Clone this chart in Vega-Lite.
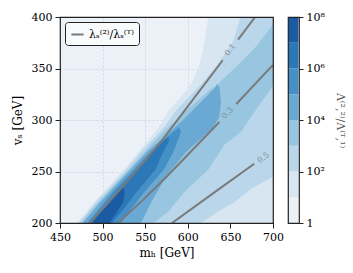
{
  "$schema": "https://vega.github.io/schema/vega-lite/v6.json",
  "padding": {"left": 10, "top": 10, "right": 0, "bottom": 0},
  "datasets": {
    "bands": [
      {"band": 1, "v": 200, "m1": 470, "m2": 700},
      {"band": 1, "v": 220, "m1": 490, "m2": 700},
      {"band": 1, "v": 251, "m1": 524, "m2": 700},
      {"band": 1, "v": 269, "m1": 542, "m2": 700},
      {"band": 1, "v": 293, "m1": 566, "m2": 700},
      {"band": 1, "v": 310, "m1": 578, "m2": 700},
      {"band": 1, "v": 322, "m1": 592, "m2": 700},
      {"band": 1, "v": 335, "m1": 604, "m2": 700},
      {"band": 1, "v": 352, "m1": 613, "m2": 700},
      {"band": 1, "v": 368, "m1": 618, "m2": 700},
      {"band": 1, "v": 400, "m1": 624, "m2": 700},
      {"band": 2, "v": 200, "m1": 472, "m2": 616},
      {"band": 2, "v": 211, "m1": 483, "m2": 635},
      {"band": 2, "v": 220, "m1": 492, "m2": 654},
      {"band": 2, "v": 223, "m1": 495, "m2": 659},
      {"band": 2, "v": 233, "m1": 507, "m2": 674},
      {"band": 2, "v": 245, "m1": 520, "m2": 700},
      {"band": 2, "v": 252, "m1": 528, "m2": 700},
      {"band": 2, "v": 269, "m1": 545, "m2": 700},
      {"band": 2, "v": 293, "m1": 572, "m2": 700},
      {"band": 2, "v": 310, "m1": 587, "m2": 700},
      {"band": 2, "v": 322, "m1": 601, "m2": 700},
      {"band": 2, "v": 335, "m1": 616, "m2": 700},
      {"band": 2, "v": 352, "m1": 633, "m2": 700},
      {"band": 2, "v": 376, "m1": 653, "m2": 700},
      {"band": 2, "v": 400, "m1": 662, "m2": 700},
      {"band": 3, "v": 200, "m1": 475, "m2": 560},
      {"band": 3, "v": 211, "m1": 485, "m2": 577},
      {"band": 3, "v": 230, "m1": 506, "m2": 596},
      {"band": 3, "v": 252, "m1": 531, "m2": 624},
      {"band": 3, "v": 276, "m1": 557, "m2": 643},
      {"band": 3, "v": 288, "m1": 571, "m2": 662},
      {"band": 3, "v": 303, "m1": 590, "m2": 674},
      {"band": 3, "v": 318, "m1": 610, "m2": 687},
      {"band": 3, "v": 332, "m1": 630, "m2": 699},
      {"band": 3, "v": 335, "m1": 635, "m2": 700},
      {"band": 3, "v": 352, "m1": 657, "m2": 700},
      {"band": 3, "v": 371, "m1": 680, "m2": 700},
      {"band": 3, "v": 393, "m1": 700, "m2": 700},
      {"band": 4, "v": 200, "m1": 477, "m2": 545},
      {"band": 4, "v": 220, "m1": 497, "m2": 557},
      {"band": 4, "v": 245, "m1": 525, "m2": 574},
      {"band": 4, "v": 252, "m1": 533, "m2": 581},
      {"band": 4, "v": 269, "m1": 552, "m2": 598},
      {"band": 4, "v": 293, "m1": 585, "m2": 630},
      {"band": 4, "v": 303, "m1": 598, "m2": 637},
      {"band": 4, "v": 318, "m1": 616, "m2": 639},
      {"band": 4, "v": 332, "m1": 633, "m2": 637},
      {"band": 4, "v": 335, "m1": 634, "m2": 634},
      {"band": 5, "v": 200, "m1": 482, "m2": 522},
      {"band": 5, "v": 211, "m1": 493, "m2": 531},
      {"band": 5, "v": 230, "m1": 512, "m2": 549},
      {"band": 5, "v": 252, "m1": 537, "m2": 572},
      {"band": 5, "v": 269, "m1": 556, "m2": 583},
      {"band": 5, "v": 288, "m1": 582, "m2": 592},
      {"band": 5, "v": 293, "m1": 590, "m2": 590},
      {"band": 6, "v": 200, "m1": 485, "m2": 511},
      {"band": 6, "v": 211, "m1": 497, "m2": 522},
      {"band": 6, "v": 230, "m1": 516, "m2": 540},
      {"band": 6, "v": 252, "m1": 540, "m2": 562},
      {"band": 6, "v": 269, "m1": 559, "m2": 571},
      {"band": 6, "v": 279, "m1": 570, "m2": 578},
      {"band": 6, "v": 284, "m1": 577, "m2": 577},
      {"band": 7, "v": 200, "m1": 488, "m2": 508},
      {"band": 7, "v": 211, "m1": 498, "m2": 517},
      {"band": 7, "v": 220, "m1": 508, "m2": 524},
      {"band": 7, "v": 230, "m1": 517, "m2": 526},
      {"band": 7, "v": 235, "m1": 524, "m2": 524}
    ],
    "lines": [
      {"name": "λₛ⁽²⁾/λₛ⁽ᵀ⁾", "seg": "a", "m": 485, "v": 200},
      {"name": "λₛ⁽²⁾/λₛ⁽ᵀ⁾", "seg": "a", "m": 527.5, "v": 239},
      {"name": "λₛ⁽²⁾/λₛ⁽ᵀ⁾", "seg": "a", "m": 570, "v": 280.5},
      {"name": "λₛ⁽²⁾/λₛ⁽ᵀ⁾", "seg": "a", "m": 604, "v": 317.5},
      {"name": "λₛ⁽²⁾/λₛ⁽ᵀ⁾", "seg": "a", "m": 641, "v": 358},
      {"name": "λₛ⁽²⁾/λₛ⁽ᵀ⁾", "seg": "b", "m": 659, "v": 378},
      {"name": "λₛ⁽²⁾/λₛ⁽ᵀ⁾", "seg": "b", "m": 679, "v": 400},
      {"name": "λₛ⁽²⁾/λₛ⁽ᵀ⁾", "seg": "c", "m": 518, "v": 200},
      {"name": "λₛ⁽²⁾/λₛ⁽ᵀ⁾", "seg": "c", "m": 545, "v": 220.5},
      {"name": "λₛ⁽²⁾/λₛ⁽ᵀ⁾", "seg": "c", "m": 574, "v": 244},
      {"name": "λₛ⁽²⁾/λₛ⁽ᵀ⁾", "seg": "c", "m": 637, "v": 298},
      {"name": "λₛ⁽²⁾/λₛ⁽ᵀ⁾", "seg": "d", "m": 657, "v": 315.5},
      {"name": "λₛ⁽²⁾/λₛ⁽ᵀ⁾", "seg": "d", "m": 700, "v": 353.5},
      {"name": "λₛ⁽²⁾/λₛ⁽ᵀ⁾", "seg": "e", "m": 581.5, "v": 200},
      {"name": "λₛ⁽²⁾/λₛ⁽ᵀ⁾", "seg": "e", "m": 630, "v": 229},
      {"name": "λₛ⁽²⁾/λₛ⁽ᵀ⁾", "seg": "e", "m": 678, "v": 257.5}
    ],
    "labels": [
      {"label": "0.1", "m": 650, "v": 368},
      {"label": "0.3", "m": 647, "v": 306.5},
      {"label": "0.5", "m": 689, "v": 263}
    ],
    "cbar": [
      {"band": 0, "lo": 1, "hi": 10},
      {"band": 1, "lo": 10, "hi": 100},
      {"band": 2, "lo": 100, "hi": 1000},
      {"band": 3, "lo": 1000, "hi": 10000},
      {"band": 4, "lo": 10000, "hi": 100000},
      {"band": 5, "lo": 100000, "hi": 1000000},
      {"band": 6, "lo": 1000000, "hi": 10000000},
      {"band": 7, "lo": 10000000, "hi": 100000000}
    ]
  },
  "spacing": 2,
  "resolve": {"scale": {"color": "shared"}, "legend": {"stroke": "independent", "color": "independent"}},
  "hconcat": [
    {
      "width": 213,
      "height": 206,
      "view": {"fill": "#ebf1f7", "stroke": "#222", "strokeWidth": 1.2},
      "encoding": {
        "y": {"field": "v", "type": "quantitative", "scale": {"domain": [200, 400], "nice": false, "zero": false},
              "axis": {"title": "vₛ [GeV]", "values": [200, 250, 300, 350, 400], "titlePadding": 7}},
        "x": {"field": "m1", "type": "quantitative", "scale": {"domain": [450, 700], "nice": false, "zero": false},
              "axis": {"title": "mₕ [GeV]", "values": [450, 500, 550, 600, 650, 700], "titlePadding": 5}},
        "x2": {"field": "m2"},
        "color": {"field": "band", "type": "ordinal",
                  "scale": {"domain": [0, 1, 2, 3, 4, 5, 6, 7],
                            "range": ["#ebf1f7", "#d7e6f1", "#bad6ea", "#98c6e0", "#69a9d3", "#4490c6", "#2b77b8", "#1a5ba4"]},
                  "legend": null}
      },
      "layer": [
        {"data": {"name": "bands"}, "transform": [{"filter": "datum.band == 1"}], "mark": {"type": "area", "orient": "horizontal", "clip": true}},
        {"data": {"name": "bands"}, "transform": [{"filter": "datum.band == 2"}], "mark": {"type": "area", "orient": "horizontal", "clip": true}},
        {"data": {"name": "bands"}, "transform": [{"filter": "datum.band == 3"}], "mark": {"type": "area", "orient": "horizontal", "clip": true}},
        {"data": {"name": "bands"}, "transform": [{"filter": "datum.band == 4"}], "mark": {"type": "area", "orient": "horizontal", "clip": true}},
        {"data": {"name": "bands"}, "transform": [{"filter": "datum.band == 5"}], "mark": {"type": "area", "orient": "horizontal", "clip": true}},
        {"data": {"name": "bands"}, "transform": [{"filter": "datum.band == 6"}], "mark": {"type": "area", "orient": "horizontal", "clip": true}},
        {"data": {"name": "bands"}, "transform": [{"filter": "datum.band == 7"}], "mark": {"type": "area", "orient": "horizontal", "clip": true}},
        {
          "data": {"name": "lines"},
          "mark": {"type": "line", "strokeWidth": 2, "clip": true},
          "encoding": {
            "x": {"field": "m", "type": "quantitative"},
            "y": {"field": "v", "type": "quantitative"},
            "x2": null,
            "color": null,
            "detail": {"field": "seg"},
            "stroke": {"field": "name", "type": "nominal", "scale": {"range": ["#7a7a7a"]},
                       "legend": {"title": null, "orient": "top-left", "offset": 5, "padding": 5,
                                  "strokeColor": "#222", "fillColor": "#f8fafc", "cornerRadius": 3,
                                  "symbolType": "stroke", "symbolSize": 150, "symbolStrokeWidth": 2,
                                  "labelFont": "DejaVu Serif", "labelFontSize": 11, "labelColor": "#000"}}
          }
        },
        {
          "data": {"name": "labels"},
          "transform": [{"filter": "datum.label == '0.1'"}],
          "mark": {"type": "text", "angle": 307, "font": "DejaVu Serif", "fontSize": 8, "color": "#8a8a8a"},
          "encoding": {"x": {"field": "m", "type": "quantitative"}, "y": {"field": "v", "type": "quantitative"}, "x2": null, "color": null, "text": {"field": "label"}}
        },
        {
          "data": {"name": "labels"},
          "transform": [{"filter": "datum.label == '0.3'"}],
          "mark": {"type": "text", "angle": 314, "font": "DejaVu Serif", "fontSize": 8, "color": "#8a8a8a"},
          "encoding": {"x": {"field": "m", "type": "quantitative"}, "y": {"field": "v", "type": "quantitative"}, "x2": null, "color": null, "text": {"field": "label"}}
        },
        {
          "data": {"name": "labels"},
          "transform": [{"filter": "datum.label == '0.5'"}],
          "mark": {"type": "text", "angle": 323, "font": "DejaVu Serif", "fontSize": 8, "color": "#8a8a8a"},
          "encoding": {"x": {"field": "m", "type": "quantitative"}, "y": {"field": "v", "type": "quantitative"}, "x2": null, "color": null, "text": {"field": "label"}}
        }
      ]
    },
    {
      "width": 11,
      "height": 206,
      "view": {"stroke": "#222", "strokeWidth": 1.2},
      "data": {"name": "cbar"},
      "mark": {"type": "bar"},
      "encoding": {
        "y": {"field": "lo", "type": "quantitative", "scale": {"type": "log", "domain": [1, 100000000], "nice": false},
              "axis": {"orient": "right", "grid": false, "values": [1, 100, 10000, 1000000, 100000000],
                       "labelExpr": "datum.value >= 1e8 ? '10⁸' : datum.value >= 1e6 ? '10⁶' : datum.value >= 1e4 ? '10⁴' : datum.value >= 100 ? '10²' : '1'",
                       "title": "Λ⁽²,²⁾/Λ⁽ᵀ,¹⁾", "titleAngle": 90, "titleColor": "#555", "titleFontSize": 11, "titlePadding": 10, "tickSize": 4}},
        "y2": {"field": "hi"},
        "color": {"field": "band", "type": "ordinal", "legend": null}
      }
    }
  ],
  "config": {
    "font": "DejaVu Serif",
    "style": {"cell": {"strokeForeground": true}},
    "axis": {
      "labelFont": "DejaVu Serif", "labelFontSize": 11, "labelColor": "#000", "labelFlush": false,
      "titleFont": "DejaVu Serif", "titleFontSize": 12, "titleFontWeight": "normal", "titleColor": "#000",
      "tickColor": "#222", "tickSize": 5, "labelPadding": 3, "domain": false,
      "grid": true, "gridColor": "#9aa4ad", "gridOpacity": 0.45, "gridWidth": 0.7, "gridDash": [2, 2],
      "zindex": 1
    }
  }
}
